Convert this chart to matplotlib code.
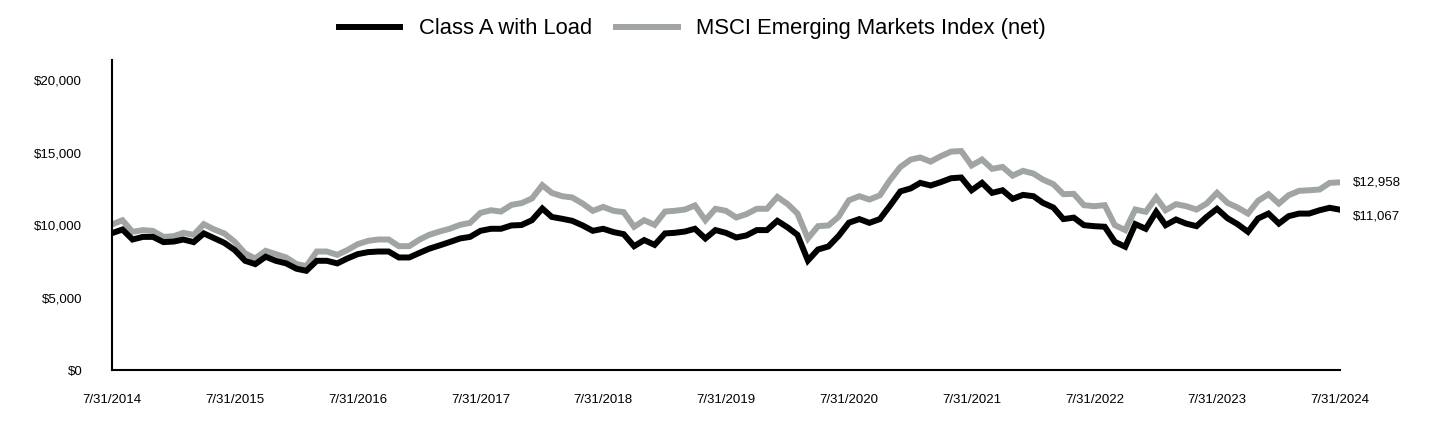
import matplotlib
matplotlib.use("Agg")
import matplotlib.pyplot as plt
import pandas as pd

plt.rcParams["font.family"] = ["Liberation Sans", "DejaVu Sans"]

# Monthly growth of a $10,000 investment, 7/31/2014 - 7/31/2024

dates = pd.date_range("2014-07-31", "2024-07-31", freq="ME")

class_a = [
    9450, 9700, 9010, 9190, 9190, 8830, 8870, 9010, 8830, 9430,
    9100, 8780, 8280, 7540, 7310, 7820, 7540, 7360, 6990, 6850,
    7540, 7540, 7360, 7700, 8000, 8140, 8180, 8180, 7770, 7770,
    8090, 8370, 8600, 8830, 9080, 9190, 9610, 9750, 9750, 9980,
    10010, 10340, 11150, 10570, 10440, 10300, 9980, 9610, 9750, 9520,
    9380, 8550, 8970, 8640, 9430, 9470, 9560, 9750, 9080, 9660,
    9470, 9150, 9290, 9660, 9660, 10300, 9840, 9330, 7560, 8320,
    8530, 9250, 10170, 10420, 10160, 10420, 11340, 12330, 12540, 12920,
    12740, 12970, 13240, 13290, 12410, 12920, 12230, 12410, 11820, 12090,
    12000, 11540, 11220, 10420, 10520, 10000, 9930, 9890, 8850, 8510,
    10070, 9750, 10920, 10000, 10390, 10110, 9930, 10570, 11130, 10480,
    10070, 9540, 10460, 10800, 10110, 10620, 10800, 10800, 11030, 11200,
    11067,
]

msci_em = [
    10050, 10340, 9540, 9660, 9600, 9190, 9240, 9470, 9330, 10070,
    9700, 9430, 8850, 8050, 7700, 8230, 8000, 7770, 7310, 7170,
    8180, 8180, 7950, 8280, 8690, 8920, 9010, 9010, 8550, 8550,
    9010, 9330, 9560, 9750, 10020, 10160, 10850, 11030, 10940, 11400,
    11520, 11840, 12760, 12230, 12000, 11910, 11490, 10990, 11260, 10990,
    10900, 9890, 10340, 10020, 10940, 10990, 11080, 11360, 10340, 11130,
    10990, 10530, 10760, 11130, 11130, 11950, 11450, 10800, 9080, 9930,
    9980, 10570, 11720, 12000, 11770, 12060, 13100, 14020, 14530, 14670,
    14390, 14760, 15080, 15120, 14120, 14530, 13890, 14020, 13420, 13750,
    13560, 13150, 12830, 12140, 12160, 11380, 11310, 11380, 10000, 9660,
    11080, 10920, 11910, 11030, 11450, 11310, 11080, 11490, 12230, 11540,
    11220, 10800, 11680, 12140, 11490, 12070, 12370, 12410, 12460, 12920,
    12958,
]

tick_dates = pd.date_range("2014-07-31", "2024-07-31", freq="12ME")
tick_labels = [f"{d.month}/{d.day}/{d.year}" for d in tick_dates]
y_ticks = [0, 5000, 10000, 15000, 20000]

fig = plt.figure(figsize=(14.4, 4.32), dpi=100)
ax = fig.add_axes([0.0778, 0.1435, 0.8528, 0.7175])

black = "#000000"
grey = "#a0a5a3"

ax.plot(dates, class_a, color=black, linewidth=4.3, label="Class A with Load",
        solid_joinstyle="miter", zorder=3)
ax.plot(dates, msci_em, color=grey, linewidth=4.3,
        label="MSCI Emerging Markets Index (net)", solid_joinstyle="miter", zorder=2)

ax.set_xlim(dates[0], dates[-1])
ax.set_ylim(0, 21400)
ax.set_xticks(tick_dates)
ax.set_xticklabels(tick_labels)
ax.set_yticks(y_ticks)
ax.set_yticklabels([f"${v:,}" for v in y_ticks])
ax.tick_params(axis="both", length=0, labelsize=9.5, colors="black")
ax.tick_params(axis="y", pad=21.5)
ax.tick_params(axis="x", pad=17)

for side in ["top", "right"]:
    ax.spines[side].set_visible(False)
for side in ["left", "bottom"]:
    ax.spines[side].set_linewidth(1.5)
    ax.spines[side].set_color("black")

# end-of-period value labels
ax.annotate(f"${msci_em[-1]:,}", xy=(dates[-1], msci_em[-1]), xytext=(9, 0),
            textcoords="offset points", va="center", ha="left", fontsize=9.5,
            annotation_clip=False)
ax.annotate(f"${class_a[-1]:,}", xy=(dates[-1], class_a[-1]), xytext=(9, -5),
            textcoords="offset points", va="center", ha="left", fontsize=9.5,
            annotation_clip=False)

fig.legend(loc="center", bbox_to_anchor=(0.481, 0.933), ncol=2, frameon=False,
           fontsize=15.8, handlelength=2.8, handletextpad=0.85, columnspacing=1.1)

fig.savefig("out.png", dpi=100)
